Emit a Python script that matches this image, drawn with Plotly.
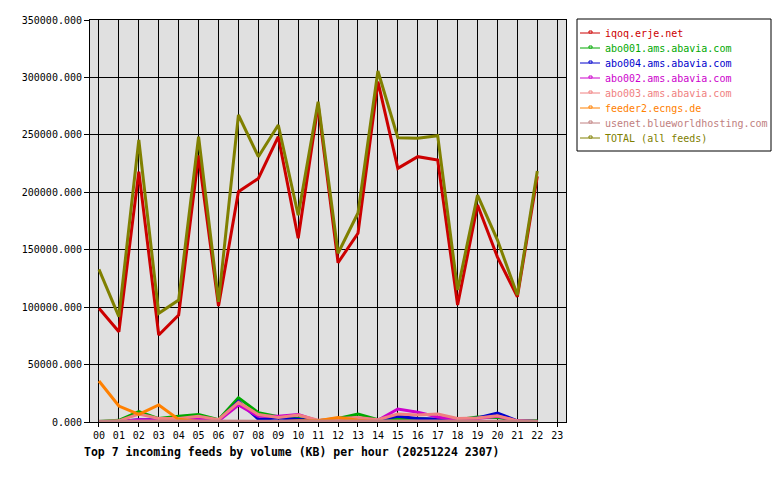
import plotly.graph_objects as go

hours = ["%02d" % h for h in range(24)]
data_hours = list(range(23))

iqoq = [99000, 78600, 218000, 75700, 93200, 232000, 101000, 200500, 212000, 248400, 160000, 276000,
        138700, 164300, 296300, 220800, 231000, 228000, 101900, 189000, 143600, 109000, 214000]
abo001 = [500, 1500, 9000, 3000, 5000, 6500, 2000, 21200, 8100, 4500, 3000, 1000,
          3000, 7000, 2000, 3000, 3000, 2000, 2000, 4300, 4000, 1000, 1000]
abo004 = [300, 500, 2000, 2000, 2000, 3000, 1000, 18000, 2500, 3500, 2500, 500,
          2000, 3000, 2000, 5000, 3000, 2500, 2000, 3500, 7800, 1000, 500]
abo002 = [300, 500, 2000, 2000, 1500, 2500, 1000, 14800, 5000, 5000, 6500, 1000,
          2000, 3000, 1500, 11300, 8500, 4300, 2000, 3000, 5000, 1000, 500]
abo003 = [300, 1000, 7000, 3000, 3000, 5000, 2000, 17000, 6500, 4000, 6000, 1500,
          3000, 4000, 2000, 7000, 6000, 7000, 3000, 3500, 5500, 1000, 500]
feeder2 = [35700, 13900, 6700, 14800, 2300, 500, 300, 300, 300, 300, 1000, 1000,
           4000, 1500, 300, 300, 300, 300, 300, 300, 300, 300, 300]
usenet = [600, 800, 900, 700, 800, 900, 700, 900, 800, 700, 900, 800,
          700, 900, 800, 900, 800, 900, 700, 800, 900, 700, 600]
total = [132900, 91700, 245500, 94600, 106200, 248400, 104700, 267300, 231000, 258600, 180000, 278900,
         146900, 182000, 305600, 247500, 247000, 249300, 114900, 197600, 158400, 110600, 218500]

names = ["iqoq.erje.net", "abo001.ams.abavia.com", "abo004.ams.abavia.com", "abo002.ams.abavia.com",
         "abo003.ams.abavia.com", "feeder2.ecngs.de", "usenet.blueworldhosting.com", "TOTAL (all feeds)"]
series = [iqoq, abo001, abo004, abo002, abo003, feeder2, usenet, total]
colors = ["#cc0000", "#00a800", "#0000cc", "#cc00cc", "#f08080", "#ff8000", "#c08080", "#808000"]

title_text = "Top 7 incoming feeds by volume (KB) per hour (20251224 2307)"
FONT = "DejaVu Sans Mono"

OFF = 8  # default page body margin
W, H = 780 - OFF, 480 - OFF
L, R, T, B = 90 - OFF, 566 - OFF, 20 - OFF, 422 - OFF

fig = go.Figure()
for name, vals, c in zip(names, series, colors):
    fig.add_trace(go.Scatter(x=data_hours, y=vals, mode="lines", name=name,
                             line=dict(color=c, width=3), showlegend=False))

def px_x(x):
    return (x - OFF - L) / (R - L)

def px_y(y):
    return (B - (y - OFF)) / (B - T)

shapes = []
annotations = []
shapes.append(dict(type="rect", xref="paper", yref="paper",
                   x0=px_x(577), x1=px_x(771), y0=px_y(151), y1=px_y(19),
                   line=dict(color="black", width=1), fillcolor="white", layer="above"))
for i, (name, c) in enumerate(zip(names, colors)):
    yy = 33 + 15 * i
    shapes.append(dict(type="line", xref="paper", yref="paper",
                       x0=px_x(580), x1=px_x(600), y0=px_y(yy), y1=px_y(yy),
                       line=dict(color=c, width=1), layer="above"))
    shapes.append(dict(type="rect", xref="paper", yref="paper",
                       x0=px_x(589), x1=px_x(592), y0=px_y(yy), y1=px_y(yy - 2),
                       line=dict(color=c, width=1), fillcolor="white", layer="above"))
    annotations.append(dict(xref="paper", yref="paper", x=px_x(603), y=px_y(yy),
                            xanchor="left", yanchor="middle", showarrow=False,
                            text=name, font=dict(family=FONT, size=10, color=c)))

annotations.append(dict(xref="paper", yref="paper", x=px_x(82), y=px_y(452),
                        xanchor="left", yanchor="middle", showarrow=False,
                        text="<b>" + title_text + "</b>",
                        font=dict(family=FONT, size=11.5, color="black")))

fig.update_layout(
    width=W, height=H,
    margin=dict(l=L, r=W - R, t=T, b=H - B, autoexpand=False),
    paper_bgcolor="white", plot_bgcolor="#e0e0e0",
    font=dict(family=FONT, size=10, color="black"),
    shapes=shapes, annotations=annotations,
    showlegend=False,
    xaxis=dict(range=[-0.45, 23.44], tickmode="array", tickvals=list(range(24)), ticktext=hours,
               showgrid=True, gridcolor="black", gridwidth=1, zeroline=False, automargin=False,
               showline=True, linecolor="black", linewidth=1, mirror=True,
               ticks="outside", ticklen=4, tickcolor="black",
               tickfont=dict(family=FONT, size=10, color="black")),
    yaxis=dict(range=[0, 350000], tickmode="linear", tick0=0, dtick=50000, tickformat=".3f",
               showgrid=True, gridcolor="black", gridwidth=1, zeroline=False, automargin=False,
               showline=True, linecolor="black", linewidth=1, mirror=True,
               ticks="outside", ticklen=5, tickcolor="black",
               tickfont=dict(family=FONT, size=10, color="black")),
)

fig.write_html("out.html")
